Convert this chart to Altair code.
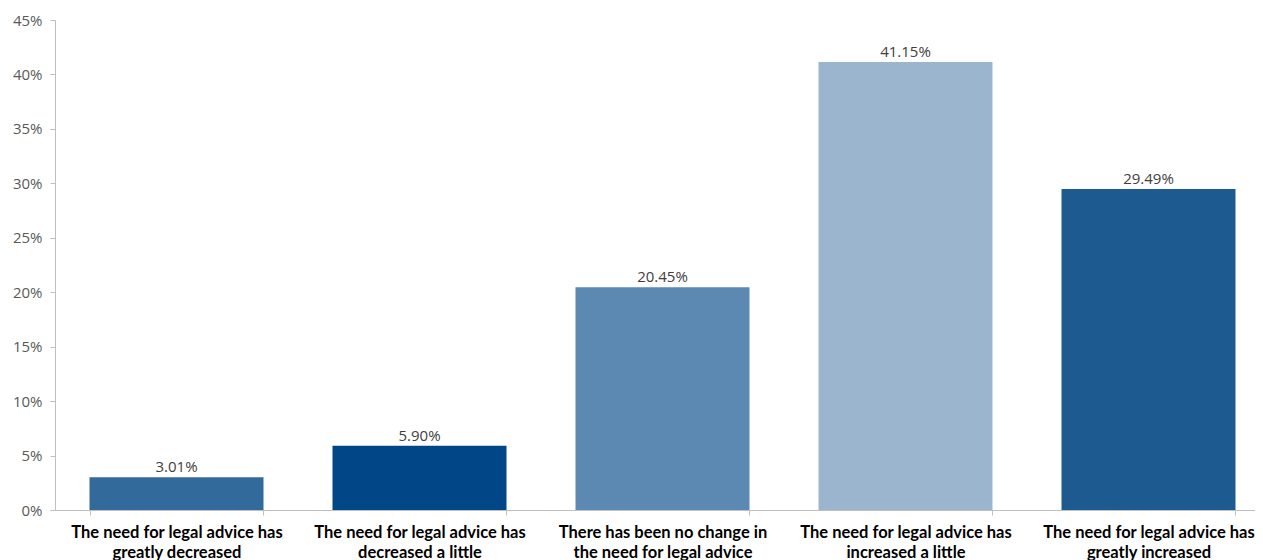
import altair as alt
import pandas as pd

line1 = [
    "The need for legal advice has",
    "The need for legal advice has",
    "There has been no change in",
    "The need for legal advice has",
    "The need for legal advice has",
]
line2 = [
    "greatly decreased",
    "decreased a little",
    "the need for legal advice",
    "increased a little",
    "greatly increased",
]
values = [3.01, 5.90, 20.45, 41.15, 29.49]
colors = ["#336a9c", "#014686", "#5b89b1", "#9bb5ce", "#1c5a8f"]

cats = [a + "|" + b for a, b in zip(line1, line2)]
df = pd.DataFrame({
    "cat": cats,
    "value": [v / 100 for v in values],
    "label": [f"{v:.2f}%" for v in values],
})

FONT = "Open Sans"
XFONT = "Lato"

base = alt.Chart(df).encode(
    x=alt.X(
        "cat:N",
        sort=cats,
        title=None,
        scale=alt.Scale(paddingInner=0.284, paddingOuter=0.142, range=[0, 1215]),
        axis=alt.Axis(
            labelExpr="split(datum.label, '|')",
            labelAngle=0,
            labelFont=XFONT,
            labelFontSize=16.5,
            labelFontWeight="bold",
            labelColor="#000000",
            labelLineHeight=20,
            labelPadding=9,
            tickSize=5,
            tickBand="extent",
            tickColor="#bfbfbf",
            domainColor="#bfbfbf",
            labelLimit=300,
        ),
    ),
)

bars = base.mark_bar().encode(
    y=alt.Y(
        "value:Q",
        title=None,
        scale=alt.Scale(domain=[0, 0.45]),
        axis=alt.Axis(
            format=".0%",
            values=[i * 0.05 for i in range(10)],
            grid=False,
            labelFont=FONT,
            labelFontSize=15,
            labelColor="#595959",
            labelPadding=8,
            tickSize=5,
            tickColor="#bfbfbf",
            domainColor="#bfbfbf",
        ),
    ),
    color=alt.Color("cat:N", sort=cats, scale=alt.Scale(domain=cats, range=colors), legend=None),
)

text = base.mark_text(baseline="bottom", dy=-2, font=FONT, fontSize=15, color="#404040").encode(
    y="value:Q",
    text="label:N",
)

chart = (bars + text).properties(
    width=1200,
    height=490,
    autosize=alt.AutoSizeParams(type="none"),
    padding={"left": 47, "top": 12, "right": 0, "bottom": 60},
).configure_view(stroke=None)

chart.save("out.html", embed_options={"renderer": "svg", "actions": False})
